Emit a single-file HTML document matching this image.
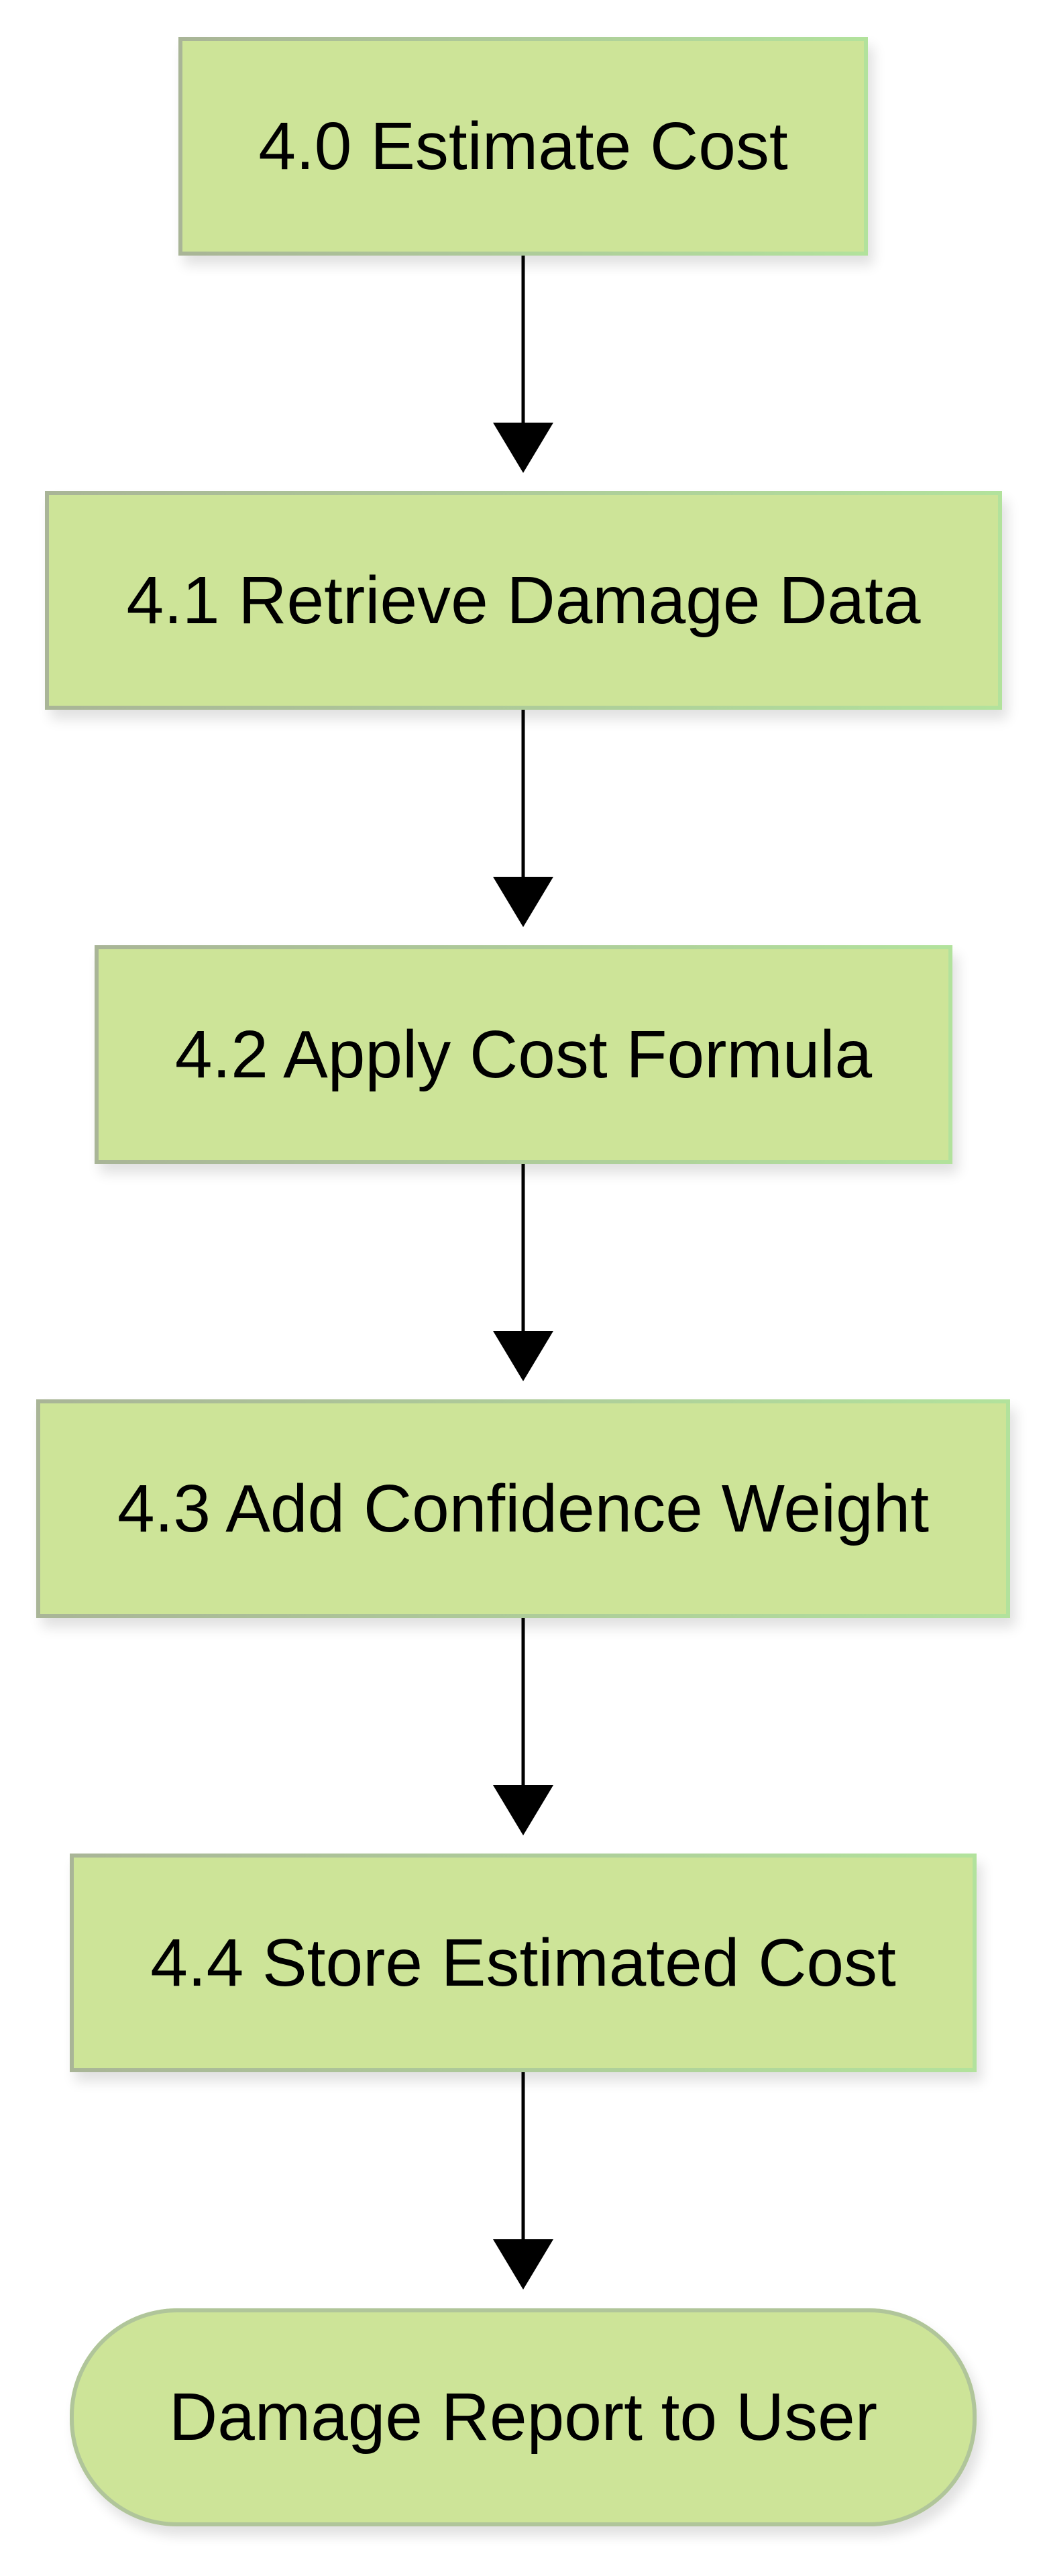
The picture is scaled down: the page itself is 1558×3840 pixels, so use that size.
<!DOCTYPE html>
<html><head><meta charset="utf-8"><style>
html,body{margin:0;padding:0;background:#fff;}
body{width:1558px;height:3840px;position:relative;overflow:hidden;font-family:"Liberation Sans",Arial,sans-serif;}
.n{position:absolute;box-sizing:border-box;background:#cde498;border:6px solid;border-image:linear-gradient(90deg,#a9b597,#b2e29c) 1;display:flex;align-items:center;justify-content:center;font-size:100px;color:#000;box-shadow:8px 14px 18px rgba(0,0,0,0.12);white-space:nowrap;}
.st{border:none;border-radius:160px;background:#cde498;box-shadow:inset 0 0 0 6px #b0c59a,8px 14px 18px rgba(0,0,0,0.12);}
svg{position:absolute;left:0;top:0;}
</style></head><body>
<svg width="1558" height="3840">
<g stroke="#000" stroke-width="5">
<line x1="780" y1="381" x2="780" y2="640"/>
<line x1="780" y1="1058" x2="780" y2="1317"/>
<line x1="780" y1="1735" x2="780" y2="1994"/>
<line x1="780" y1="2412" x2="780" y2="2671"/>
<line x1="780" y1="3089" x2="780" y2="3348"/>
</g>
<g fill="#000">
<polygon points="735,630 825,630 780,705"/>
<polygon points="735,1307 825,1307 780,1382"/>
<polygon points="735,1984 825,1984 780,2059"/>
<polygon points="735,2661 825,2661 780,2736"/>
<polygon points="735,3338 825,3338 780,3413"/>
</g>
</svg>
<div class="n" style="left:266px;top:55px;width:1028px;height:326px;">4.0 Estimate Cost</div>
<div class="n" style="left:67px;top:732px;width:1427px;height:326px;">4.1 Retrieve Damage Data</div>
<div class="n" style="left:141px;top:1409px;width:1279px;height:326px;">4.2 Apply Cost Formula</div>
<div class="n" style="left:54px;top:2086px;width:1452px;height:326px;">4.3 Add Confidence Weight</div>
<div class="n" style="left:104px;top:2763px;width:1352px;height:326px;">4.4 Store Estimated Cost</div>
<div class="n st" style="left:104px;top:3441px;width:1352px;height:325px;">Damage Report to User</div>
</body></html>
